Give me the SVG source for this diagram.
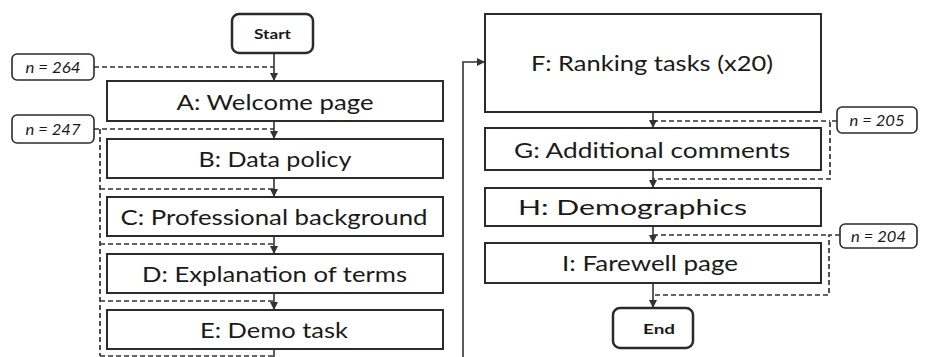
<svg xmlns="http://www.w3.org/2000/svg" width="925" height="357" viewBox="0 0 925 357">
  <style>
    .box { fill: #fff; stroke: #2b2b2b; stroke-width: 2; }
    .term { fill: #fff; stroke: #2b2b2b; stroke-width: 2.5; }
    .nbox { fill: #fff; stroke: #2b2b2b; stroke-width: 1.6; }
    .label { font-family: Lato, "Open Sans", sans-serif; font-size: 22px; fill: #1a1a1a; text-anchor: middle; }
    .tlabel { font-family: Lato, "Open Sans", sans-serif; font-size: 14px; font-weight: bold; fill: #1a1a1a; text-anchor: middle; }
    .nlabel { font-family: Lato, "Open Sans", sans-serif; font-size: 15px; font-style: italic; fill: #1a1a1a; text-anchor: middle; }
    .flow { fill: none; stroke: #333; stroke-width: 1.6; }
    .drop { fill: none; stroke: #333; stroke-width: 1.7; stroke-dasharray: 5 3; }
  </style>
  <defs>
    <marker id="arrow" viewBox="0 0 10 10" refX="10" refY="5" markerWidth="5" markerHeight="5" orient="auto" markerUnits="strokeWidth">
      <path d="M0,0 L10,5 L0,10 Z" fill="#333"/>
    </marker>
  </defs>

  <!-- connectors -->
  <g id="connectors">
    <!-- main flow, left column -->
    <line class="flow" x1="274" y1="53" x2="274" y2="81" marker-end="url(#arrow)"/>
    <line class="flow" x1="274" y1="121" x2="274" y2="139" marker-end="url(#arrow)"/>
    <line class="flow" x1="274" y1="178" x2="274" y2="197" marker-end="url(#arrow)"/>
    <line class="flow" x1="274" y1="236" x2="274" y2="254" marker-end="url(#arrow)"/>
    <line class="flow" x1="274" y1="293" x2="274" y2="310" marker-end="url(#arrow)"/>
    <line class="flow" x1="274" y1="349" x2="274" y2="357"/>
    <!-- return path into the ranking tasks -->
    <polyline class="flow" points="463,357 463,62 485,62" marker-end="url(#arrow)"/>
    <!-- main flow, right column -->
    <line class="flow" x1="653" y1="112" x2="653" y2="128" marker-end="url(#arrow)"/>
    <line class="flow" x1="653" y1="170" x2="653" y2="188" marker-end="url(#arrow)"/>
    <line class="flow" x1="653" y1="226" x2="653" y2="243" marker-end="url(#arrow)"/>
    <line class="flow" x1="653" y1="283" x2="653" y2="308" marker-end="url(#arrow)"/>

    <!-- participant counts (dashed) -->
    <line class="drop" x1="94" y1="67" x2="274" y2="67"/>
    <line class="drop" x1="94" y1="129" x2="274" y2="129"/>
    <line class="drop" x1="100" y1="129" x2="100" y2="356"/>
    <line class="drop" x1="100" y1="189" x2="274" y2="189"/>
    <line class="drop" x1="100" y1="244" x2="274" y2="244"/>
    <line class="drop" x1="100" y1="301" x2="274" y2="301"/>
    <line class="drop" x1="100" y1="356" x2="274" y2="356"/>

    <polyline class="drop" points="837,121 830,121 830,179 653,179"/>
    <line class="drop" x1="653" y1="121" x2="830" y2="121"/>
    <polyline class="drop" points="840,235 829,235 829,295 653,295"/>
    <line class="drop" x1="653" y1="235" x2="829" y2="235"/>
  </g>

  <!-- nodes -->
  <g id="start">
    <rect class="term" x="232" y="14" width="81" height="39" rx="7"/>
    <text class="tlabel" x="272.5" y="39" textLength="37" lengthAdjust="spacingAndGlyphs">Start</text>
  </g>
  <g id="n264">
    <rect class="nbox" x="12" y="54" width="82" height="26" rx="5"/>
    <text class="nlabel" x="53" y="72.5" textLength="55" lengthAdjust="spacingAndGlyphs">n = 264</text>
  </g>
  <g id="n247">
    <rect class="nbox" x="12" y="115" width="82" height="28" rx="5"/>
    <text class="nlabel" x="53" y="134.5" textLength="55" lengthAdjust="spacingAndGlyphs">n = 247</text>
  </g>
  <g id="nodeA">
    <rect class="box" x="107" y="81" width="336" height="40"/>
    <text class="label" x="275" y="110" textLength="197" lengthAdjust="spacingAndGlyphs">A: Welcome page</text>
  </g>
  <g id="nodeB">
    <rect class="box" x="107" y="139" width="336" height="39"/>
    <text class="label" x="275" y="167" textLength="153" lengthAdjust="spacingAndGlyphs">B: Data policy</text>
  </g>
  <g id="nodeC">
    <rect class="box" x="107" y="197" width="336" height="39"/>
    <text class="label" x="274" y="225" textLength="307" lengthAdjust="spacingAndGlyphs">C: Professional background</text>
  </g>
  <g id="nodeD">
    <rect class="box" x="107" y="254" width="336" height="39"/>
    <text class="label" x="274.5" y="282" textLength="265" lengthAdjust="spacingAndGlyphs">D: Explanation of terms</text>
  </g>
  <g id="nodeE">
    <rect class="box" x="107" y="310" width="336" height="39"/>
    <text class="label" x="274" y="338" textLength="148" lengthAdjust="spacingAndGlyphs">E: Demo task</text>
  </g>
  <g id="nodeF">
    <rect class="box" x="485" y="14" width="336" height="98"/>
    <text class="label" x="652" y="71" textLength="242" lengthAdjust="spacingAndGlyphs">F: Ranking tasks (x20)</text>
  </g>
  <g id="n205">
    <rect class="nbox" x="837" y="107" width="80" height="26" rx="5"/>
    <text class="nlabel" x="877" y="125.5" textLength="55" lengthAdjust="spacingAndGlyphs">n = 205</text>
  </g>
  <g id="nodeG">
    <rect class="box" x="485" y="128" width="336" height="42"/>
    <text class="label" x="652" y="158" textLength="276" lengthAdjust="spacingAndGlyphs">G: Additional comments</text>
  </g>
  <g id="nodeH">
    <rect class="box" x="485" y="188" width="336" height="38"/>
    <text class="label" x="632.5" y="215" textLength="229" lengthAdjust="spacingAndGlyphs">H: Demographics</text>
  </g>
  <g id="n204">
    <rect class="nbox" x="840" y="224" width="77" height="24" rx="5"/>
    <text class="nlabel" x="878.5" y="241.5" textLength="55" lengthAdjust="spacingAndGlyphs">n = 204</text>
  </g>
  <g id="nodeI">
    <rect class="box" x="485" y="243" width="336" height="40"/>
    <text class="label" x="650" y="271" textLength="176" lengthAdjust="spacingAndGlyphs">I: Farewell page</text>
  </g>
  <g id="end">
    <rect class="term" x="613" y="308" width="80" height="40" rx="7"/>
    <text class="tlabel" x="659" y="334" textLength="32" lengthAdjust="spacingAndGlyphs">End</text>
  </g>
</svg>
